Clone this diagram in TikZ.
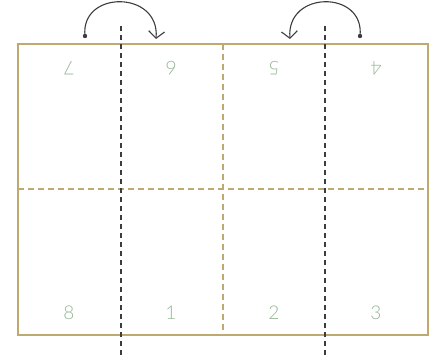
\documentclass[tikz,border=0pt]{standalone}
\usepackage{fontspec}
\setmainfont{Lato}[UprightFont={* Light}]
\usepackage{xcolor}
\usetikzlibrary{arrows.meta}
\definecolor{framegold}{RGB}{190,170,112}
\definecolor{foldgray}{RGB}{60,60,60}
\definecolor{pagegreen}{RGB}{150,182,150}

\tikzset{
  pagenum/.style={pagegreen, font=\fontsize{19}{19}\selectfont},
  foldline/.style={foldgray, line width=1.2pt, dash pattern=on 5pt off 4pt},
  cutline/.style={framegold, line width=1.1pt, dash pattern=on 6pt off 4pt},
  turnarrow/.style={foldgray, line width=1.1pt, -{Straight Barb[length=7pt,width=16pt]}}
}

\begin{document}
\begin{tikzpicture}[x=1pt, y=-1pt]
  \useasboundingbox (0,0) rectangle (443,355);
  \draw[cutline] (18,189) -- (428,189);
  \draw[cutline] (223,44) -- (223,335);
  \draw[framegold, line width=1.3pt] (18,44) rectangle (428,335);
  \draw[foldline] (121,26) -- (121,355);
  \draw[foldline] (325,26) -- (325,355);
  \node[pagenum, rotate=180] (p7) at (69,68) {7};
  \node[pagenum, rotate=180] (p6) at (171,68) {6};
  \node[pagenum, rotate=180] (p5) at (274,68) {5};
  \node[pagenum, rotate=180] (p4) at (376,68) {4};
  \node[pagenum] (p8) at (69,313) {8};
  \node[pagenum] (p1) at (171,313) {1};
  \node[pagenum] (p2) at (274,313) {2};
  \node[pagenum] (p3) at (376,313) {3};
  \coordinate (leftdot) at (85,36);
  \coordinate (leftend) at (156,39);
  \coordinate (rightdot) at (360,36);
  \coordinate (rightend) at (290,39);
  \fill[foldgray] (leftdot) circle (2.2pt);
  \fill[foldgray] (rightdot) circle (2.2pt);
  \draw[turnarrow] (leftdot) .. controls (80,-10) and (160,-10) .. (leftend);
  \draw[turnarrow] (rightdot) .. controls (365,-10) and (286,-10) .. (rightend);
\end{tikzpicture}
\end{document}
